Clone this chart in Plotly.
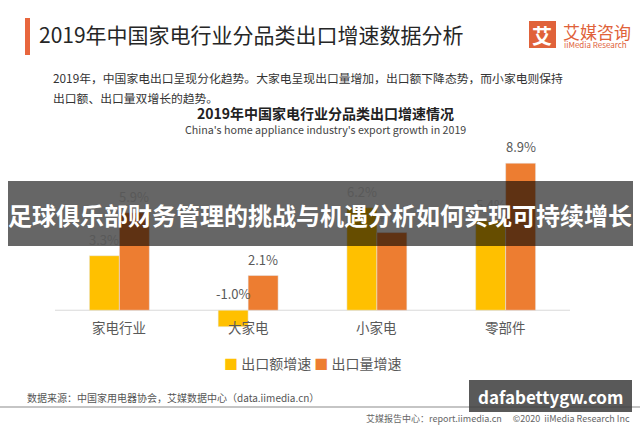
import plotly.graph_objects as go

categories = ["家电行业", "大家电", "小家电", "零部件"]
export_value_growth = [3.3, -1.0, 6.2, 5.4]
export_volume_growth = [5.9, 2.1, 4.7, 8.9]
series_names = ["出口额增速", "出口量增速"]

W, H = 640, 426
L, R, T, B = 55, 70, 145, 91
FONT = "Noto Sans CJK SC, Noto Sans, sans-serif"
C_Y = "#FFC000"
C_O = "#ED7D31"
GRAY = "#595959"


def px(x):
    return (x - L) / (W - L - R)


def py(y):
    return (H - B - y) / (H - T - B)


fig = go.Figure()
fig.add_trace(go.Bar(x=categories, y=export_value_growth, name=series_names[0],
                     marker_color=C_Y, showlegend=False))
fig.add_trace(go.Bar(x=categories, y=export_volume_growth, name=series_names[1],
                     marker_color=C_O, showlegend=False))

ann = []
# data labels
for i, c in enumerate(categories):
    for vals, xs in ((export_value_growth, -15), (export_volume_growth, 15)):
        v = vals[i]
        ann.append(dict(x=c, y=max(v, 0), xref="x", yref="y", xshift=xs, yshift=5,
                        yanchor="bottom", showarrow=False, text=f"{v:.1f}%",
                        font=dict(family=FONT, size=13, color=GRAY)))
    ann.append(dict(x=c, y=0, xref="x", yref="y", yshift=-17, yanchor="middle",
                    showarrow=False, text=c,
                    font=dict(family=FONT, size=13.5, color=GRAY)))


def text(x, y, s, size, color, xanchor="left", bold=False, family=FONT):
    if bold:
        s = f"<b>{s}</b>"
    ann.append(dict(x=px(x), y=py(y), xref="paper", yref="paper", xanchor=xanchor,
                    yanchor="middle", showarrow=False, text=s,
                    font=dict(family=family, size=size, color=color)))


text(37, 34, "2019年中国家电行业分品类出口增速数据分析", 21, "#262626")
text(51, 77, "2019年，中国家电出口呈现分化趋势。大家电呈现出口量增加，出口额下降态势，而小家电则保持", 11.8, "#333333")
text(51, 97, "出口额、出口量双增长的趋势。", 11.8, "#333333")
text(325, 113, "2019年中国家电行业分品类出口增速情况", 14, "#222222", "center", bold=True)
text(325, 129, "China's home appliance industry's export growth in 2019", 10.7, "#444444", "center")
text(25, 397, "数据来源：中国家用电器协会，艾媒数据中心（data.iimedia.cn）", 10, "#555555")
text(632, 418, "艾媒报告中心：report.iimedia.cn　 ©2020  iiMedia Research Inc", 9, "#666666", "right")
# legend
text(312, 363, f"<span style='color:{C_Y}'>■</span> {series_names[0]} "
               f"<span style='color:{C_O}'>■</span> {series_names[1]}", 14, GRAY, "center")
# logo
text(542, 35, "<b>艾</b>", 20, "white", "center")
text(561, 32, "艾媒咨询", 17, "#E0623A")
text(562, 45, "iiMedia Research", 8, "#E0623A")

shapes = [
    dict(type="rect", xref="paper", yref="paper", x0=px(25), x1=px(30), y0=py(18), y1=py(55),
         fillcolor="#E8663D", line_width=0, layer="above"),
    dict(type="rect", xref="paper", yref="paper", x0=px(529), x1=px(556), y0=py(21), y1=py(48),
         fillcolor="#E0623A", line_width=0, layer="below"),
    dict(type="line", xref="paper", yref="paper", x0=px(0), x1=px(640), y0=py(407), y1=py(407),
         line=dict(color="#8c8c8c", width=1.2)),
    dict(type="line", xref="paper", yref="y", x0=0, x1=1, y0=0, y1=0,
         line=dict(color="#d9d9d9", width=1), layer="below"),
]

# overlays
shapes.append(dict(type="rect", xref="paper", yref="paper", x0=px(8), x1=px(633),
                   y0=py(181), y1=py(246), fillcolor="rgba(0,0,0,0.6)", line_width=0,
                   layer="above"))
shapes.append(dict(type="rect", xref="paper", yref="paper", x0=px(469), x1=px(632),
                   y0=py(380), y1=py(412), fillcolor="rgba(60,60,60,0.85)", line_width=0,
                   layer="above"))
text(320, 214, "足球俱乐部财务管理的挑战与机遇分析如何实现可持续增长", 24, "white", "center", bold=True)
text(550, 396, "dafabettygw.com", 17, "white", "center", bold=True)

fig.update_layout(
    width=W, height=H,
    margin=dict(l=L, r=R, t=T, b=B, pad=0),
    paper_bgcolor="white", plot_bgcolor="white",
    barmode="group", bargap=0.534, bargroupgap=0,
    showlegend=False,
    xaxis=dict(showticklabels=False, showgrid=False, zeroline=False, showline=False,
               range=[-0.5, 3.5], fixedrange=True),
    yaxis=dict(range=[-1.5, 10], showticklabels=False, showgrid=False, zeroline=False,
               showline=False, fixedrange=True),
    annotations=ann, shapes=shapes,
    font=dict(family=FONT),
)

fig.write_html("out.html", config={"displayModeBar": False},
               post_script="document.body.style.margin='0';document.body.style.overflow='hidden';")
